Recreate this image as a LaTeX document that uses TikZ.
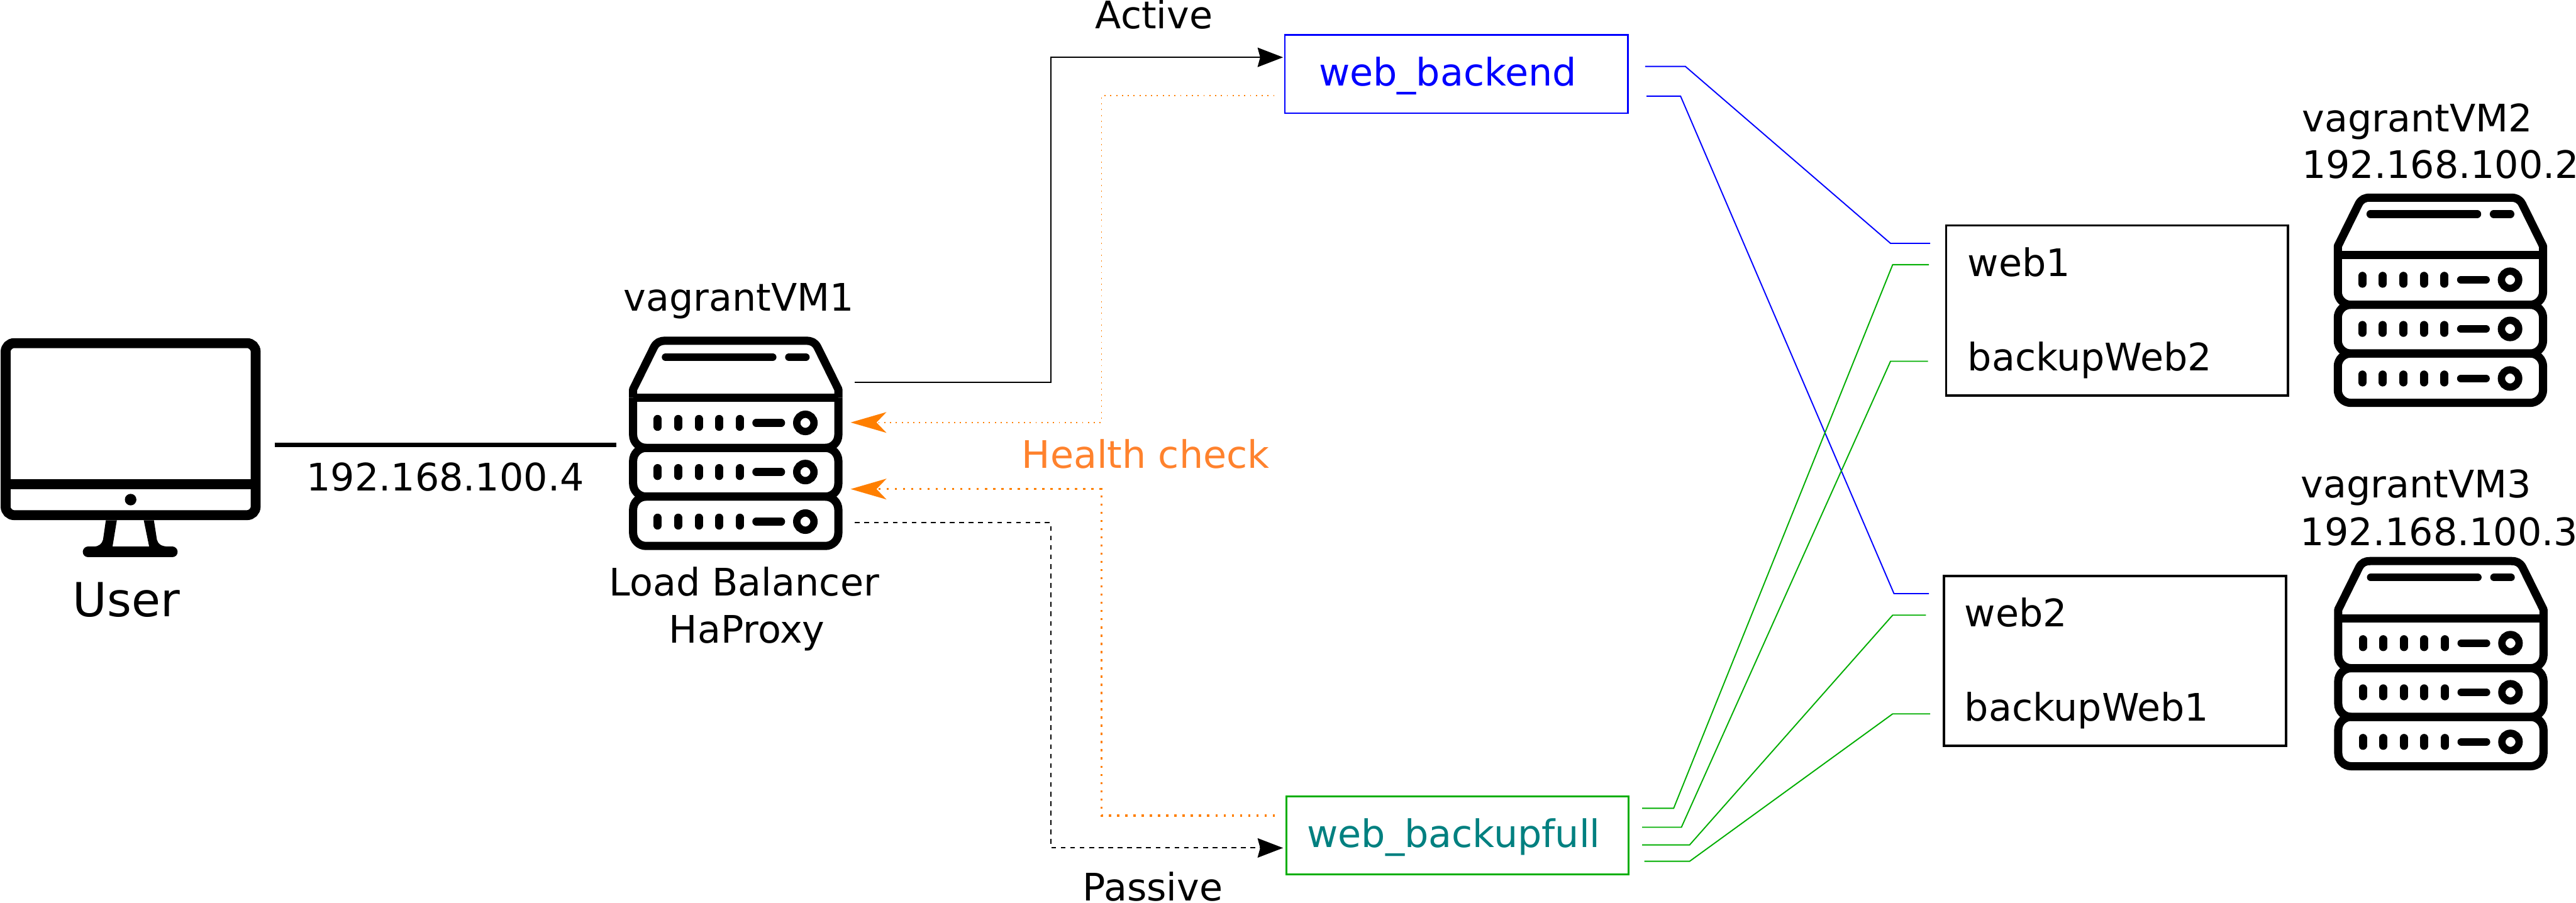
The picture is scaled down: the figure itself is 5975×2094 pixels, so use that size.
\documentclass[tikz,border=0pt]{standalone}
\usepackage{fontspec}
\setmainfont{DejaVu Sans}
\usetikzlibrary{arrows.meta}
\definecolor{linkblue}{HTML}{0000FF}
\definecolor{linkgreen}{HTML}{00AE00}
\definecolor{teallabel}{HTML}{008080}
\definecolor{hcorange}{HTML}{FF7F00}
\definecolor{hclabel}{HTML}{FF822D}
\tikzset{
  lbl/.style={anchor=base west,inner sep=0pt,outer sep=0pt,font=\fontsize{88}{100}\selectfont},
  bigl/.style={lbl,font=\fontsize{109}{120}\selectfont},
  boxbase/.style={draw,inner sep=0pt,outer sep=0pt,fill=none},
  groupblue/.style={boxbase,draw=linkblue,line width=3.5pt},
  groupgreen/.style={boxbase,draw=linkgreen,line width=4.5pt},
  serverbox/.style={boxbase,draw=black,line width=5.5pt},
  bluewire/.style={draw=linkblue,line width=2.8pt},
  greenwire/.style={draw=linkgreen,line width=2.8pt},
  bktip/.style={-{Stealth[length=59pt,width=45pt,inset=6pt]}},
  ortip/.style={-{Stealth[length=83pt,width=48pt,inset=23pt]}},
  activeflow/.style={draw=black,line width=3pt,bktip},
  passiveflow/.style={draw=black,line width=3pt,dash pattern=on 11pt off 11pt,bktip},
  healthlight/.style={draw=hcorange,line width=2.7pt,dash pattern=on 2.7pt off 10.8pt,ortip},
  healthstrong/.style={draw=hcorange,line width=5pt,dash pattern=on 5pt off 14pt,ortip},
  serverpic/.pic={
    \begin{scope}[line width=19pt,draw=black]
      \draw[line join=round] (9.5,142) -- (9.5,122) -- (58,24) .. controls (64,13) and (72,9.5) .. (84,9.5)
        -- (411,9.5) .. controls (423,9.5) and (431,13) .. (437,24) -- (485.5,122) -- (485.5,142);
      \draw[rounded corners=30pt] (9.5,142) -- (9.5,258) -- (485.5,258) -- (485.5,142);
      \draw (9.5,142) -- (485.5,142);
      \draw[rounded corners=30pt] (9.5,258) rectangle (485.5,371);
      \draw[rounded corners=30pt] (9.5,371) rectangle (485.5,485.5);
      \draw[line cap=round,line width=18pt] (85,47.5) -- (333,47.5) (371,47.5) -- (410,47.5);
      \foreach \r in {200,314,429} {
        \foreach \c in {66.5,114,162,209,257}
          \draw[line cap=round] (\c,\r-9) -- (\c,\r+9);
        \draw[line cap=round,line width=18pt] (295,\r) -- (353,\r);
        \draw[line width=17pt] (409,\r) circle[radius=20pt];
      }
    \end{scope}
  },
  monitorpic/.pic={
    \draw[line width=23pt,rounded corners=20pt] (13,796) rectangle (593,1195);
    \draw[line width=23pt] (13,1123) -- (593,1123);
    \fill (303,1159) circle[radius=13.4pt];
    \fill (245.5,1207) -- (239,1252) .. controls (236,1262) and (230,1267) .. (218,1268)
      -- (261,1268) -- (271,1207) -- cycle;
    \fill (357,1207) -- (364,1252) .. controls (367,1262) and (373,1267) .. (389,1268)
      -- (346,1268) -- (333.5,1207) -- cycle;
    \draw[line width=25pt,line cap=round] (204.5,1280.5) -- (399.5,1280.5);
  }
}
\begin{document}
\begin{tikzpicture}[x=1pt,y=-1pt]
\path[use as bounding box,fill=white] (0,0) rectangle (5975,2094);

% icons
\pic (usericon) at (0,0) {monitorpic};
\pic (vm1) at (1459,781) {serverpic};
\pic (vm2) at (5413,449) {serverpic};
\pic (vm3) at (5414,1292) {serverpic};

% boxes
\node[groupblue,minimum width=796pt,minimum height=182pt] (backend) at (3378,172) {};
\node[groupgreen,minimum width=794pt,minimum height=182pt] (backupfull) at (3381,1938) {};
\node[serverbox,minimum width=793pt,minimum height=394pt] (srvA) at (4910.5,720) {};
\node[serverbox,minimum width=793pt,minimum height=394pt] (srvB) at (4905.5,1533) {};

% labels
\node[lbl] (lvm1) at (1446.5,722) {vagrantVM1};
\node[lbl] (lbone) at (1413,1382) {Load Balancer};
\node[lbl] (lbtwo) at (1552,1491) {HaProxy};
\node[bigl] (luser) at (169,1430) {User};
\node[lbl] (lip) at (711,1138) {192.168.100.4};
\node[lbl] (lactive) at (2541,67) {Active};
\node[lbl] (lpassive) at (2511,2089) {Passive};
\node[lbl,text=hclabel] (lhealth) at (2370,1086) {Health check};
\node[lbl,text=linkblue] (lbackend) at (3059,199) {web\_backend};
\node[lbl,text=teallabel] (lbackup) at (3032,1966) {web\_backupfull};
\node[lbl] (lweba) at (4564,641) {web1};
\node[lbl] (lbkb) at (4564,860) {backupWeb2};
\node[lbl] (lwebb) at (4557,1453) {web2};
\node[lbl] (lbka) at (4557,1673) {backupWeb1};
\node[lbl] (lvm2) at (5340,305) {vagrantVM2};
\node[lbl] (lipb) at (5339,413) {192.168.100.2};
\node[lbl] (lvm3) at (5336.5,1155) {vagrantVM3};
\node[lbl] (lipc) at (5336,1266) {192.168.100.3};

% connector ends
\coordinate (userout) at (637,1032);
\coordinate (lbin) at (1430,1032);
\coordinate (lbactive) at (1983,886.5);
\coordinate (lbpassive) at (1983,1212.5);
\coordinate (lbhca) at (1973,980);
\coordinate (lbhcb) at (1973,1134.5);
\coordinate (bein) at (2976,133);
\coordinate (beout) at (2956,222);
\coordinate (bfin) at (2976,1967);
\coordinate (bfout) at (2957,1892);
\coordinate (bwa) at (3816,154);
\coordinate (bwb) at (3819,223);
\coordinate (ewa) at (4477,564.5);
\coordinate (ewb) at (4474,1377);
\coordinate (gwa) at (3809,1875);
\coordinate (gwb) at (3809,1919);
\coordinate (gwc) at (3809,1960);
\coordinate (gwd) at (3814,1998);
\coordinate (hwa) at (4474,614);
\coordinate (hwb) at (4472,838);
\coordinate (hwc) at (4467,1427);
\coordinate (hwd) at (4477,1656);

% connectors
\draw[line width=10.7pt] (userout) -- (lbin);
\draw[activeflow] (lbactive) -- (2437,886.5) -- (2437,133) -- (bein);
\draw[passiveflow] (lbpassive) -- (2437,1212.5) -- (2437,1967) -- (bfin);
\draw[healthlight] (beout) -- (2555,222) -- (2555,980) -- (lbhca);
\draw[healthstrong] (bfout) -- (2555,1892) -- (2555,1134.5) -- (lbhcb);
\draw[bluewire] (bwa) -- (3909,154) -- (4385,564.5) -- (ewa);
\draw[bluewire] (bwb) -- (3898,223) -- (4393,1377) -- (ewb);
\draw[greenwire] (gwa) -- (3882,1875) -- (4390,614) -- (hwa);
\draw[greenwire] (gwb) -- (3900,1919) -- (4385,838) -- (hwb);
\draw[greenwire] (gwc) -- (3919,1960) -- (4390,1427) -- (hwc);
\draw[greenwire] (gwd) -- (3919,1998) -- (4390,1656) -- (hwd);
\end{tikzpicture}
\end{document}
